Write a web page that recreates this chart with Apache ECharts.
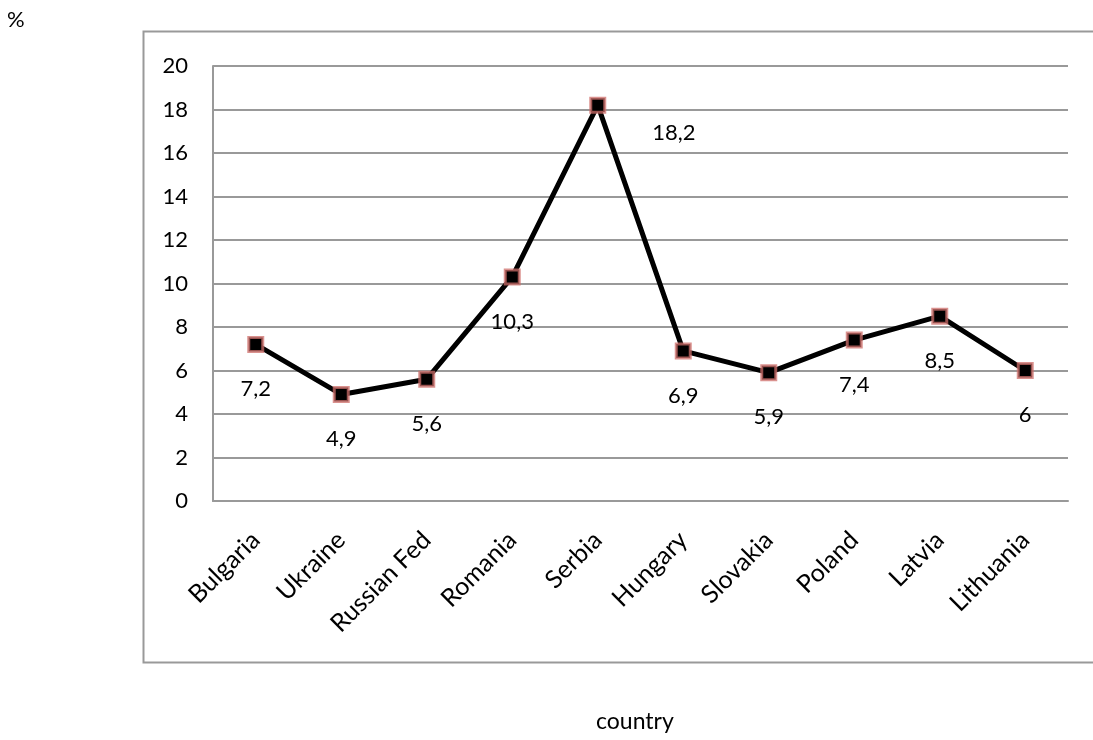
<!DOCTYPE html>
<html>
<head>
<meta charset="utf-8">
<script src="https://cdn.jsdelivr.net/npm/echarts@6/dist/echarts.min.js"></script>
<style>
  html, body { margin: 0; padding: 0; background: #fff; }
  #main { width: 1093px; height: 740px; }
</style>
</head>
<body>
<div id="main"></div>
<script>
const countries = ['Bulgaria', 'Ukraine', 'Russian Fed', 'Romania', 'Serbia', 'Hungary', 'Slovakia', 'Poland', 'Latvia', 'Lithuania'];
const rates = [7.2, 4.9, 5.6, 10.3, 18.2, 6.9, 5.9, 7.4, 8.5, 6];
const yTicks = [0, 2, 4, 6, 8, 10, 12, 14, 16, 18, 20];

const font = 'Lato, "Open Sans", sans-serif';

var chart = echarts.init(document.getElementById('main'));

// label under each point; the Serbia peak gets its label to the right like in the original
const points = rates.map((v, i) => {
    const p = { value: v };
    if (countries[i] === 'Serbia') {
        p.label = { position: 'right', distance: 46, offset: [0, 28] };
    } else {
        p.label = { position: 'bottom', distance: 25 };
    }
    return p;
});

chart.setOption({
    animation: false,
    textStyle: { fontFamily: font },
    graphic: [
        { type: 'rect', shape: { x: 143.5, y: 31.5, width: 1100, height: 631 },
          style: { fill: 'none', stroke: '#999', lineWidth: 2 }, silent: true },
        { type: 'text', left: 7, top: 9, style: { text: '%', font: '22px ' + font, fill: '#000' } },
        { type: 'text', left: 596, top: 710, style: { text: 'country', font: '23px ' + font, fill: '#000' } }
    ],
    grid: { left: 213, top: 66, right: 25, bottom: 239 },
    xAxis: {
        type: 'category',
        data: countries,
        boundaryGap: true,
        axisLine: { show: true, lineStyle: { color: '#999', width: 2 } },
        axisTick: { show: false },
        axisLabel: { rotate: 45, color: '#000', fontSize: 25, fontFamily: font, margin: 35, interval: 0 }
    },
    yAxis: {
        type: 'value',
        min: yTicks[0],
        max: yTicks[yTicks.length - 1],
        interval: 2,
        axisLine: { show: true, lineStyle: { color: '#999', width: 2 } },
        axisTick: { show: false },
        axisLabel: { color: '#000', fontSize: 22, fontFamily: font, margin: 25 },
        splitLine: { show: true, lineStyle: { color: '#999', width: 2 } }
    },
    series: [{
        type: 'line',
        data: points,
        symbol: 'rect',
        symbolSize: 14,
        itemStyle: { color: '#000', borderColor: 'rgba(205,110,105,0.75)', borderWidth: 3 },
        lineStyle: { color: '#000', width: 5 },
        label: {
            show: true,
            color: '#000',
            fontSize: 22,
            fontFamily: font,
            formatter: p => String(p.value).replace('.', ',')
        }
    }]
});
</script>
</body>
</html>
